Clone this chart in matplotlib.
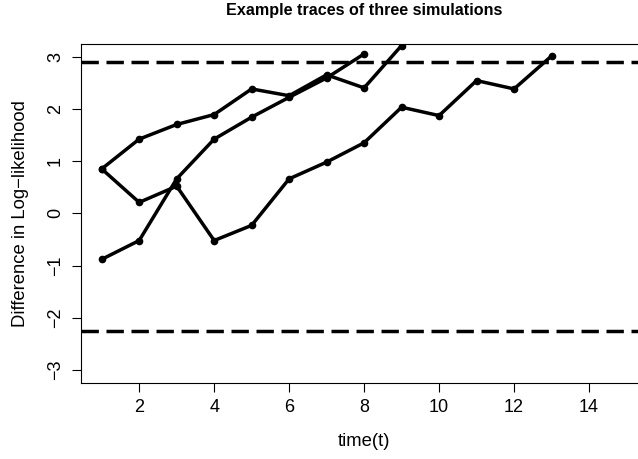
import numpy as np
import matplotlib
matplotlib.use("Agg")
import matplotlib.pyplot as plt

plt.rcParams["font.family"] = ["Liberation Sans", "DejaVu Sans"]

# three simulated traces of the log-likelihood difference
t_a = [1, 2, 3, 4, 5, 6, 7, 8, 9]
llr_a = [0.85, 1.42, 1.70, 1.89, 2.38, 2.25, 2.65, 2.40, 3.21]

t_b = [1, 2, 3, 4, 5, 6, 7, 8, 9, 10, 11, 12, 13]
llr_b = [0.85, 0.21, 0.52, -0.52, -0.23, 0.66, 0.98, 1.35, 2.03, 1.87, 2.54, 2.38, 3.01]

t_c = [1, 2, 3, 4, 5, 6, 7, 8]
llr_c = [-0.88, -0.52, 0.66, 1.42, 1.84, 2.22, 2.59, 3.05]

# SPRT boundaries
upper = 2.890
lower = -2.251

fig = plt.figure(figsize=(6.38, 4.59), dpi=100)
ax = fig.add_axes([0.1265, 0.1662, 0.8884, 0.738])

for t, v in [(t_a, llr_a), (t_b, llr_b), (t_c, llr_c)]:
    ax.plot(t, v, color="black", linewidth=2.5, marker="o", markersize=4.5,
            solid_joinstyle="round", solid_capstyle="round")

for h in (upper, lower):
    ax.axhline(h, color="black", linewidth=2.5, linestyle=(0, (5, 2.2)))

ax.set_xlim(0.44, 15.56)
ax.set_ylim(-3.24, 3.24)
ax.set_xticks([2, 4, 6, 8, 10, 12, 14])
ax.set_yticks([-3, -2, -1, 0, 1, 2, 3])
ax.set_yticklabels(["\u22123", "\u22122", "\u22121", "0", "1", "2", "3"],
                   rotation=90, va="center")
ax.tick_params(direction="out", length=6.5, width=0.8, labelsize=13, pad=5.5)

for s in ax.spines.values():
    s.set_linewidth(0.8)

ax.set_xlabel("time(t)", fontsize=13.3, va="center")
ax.xaxis.set_label_coords(0.5, -0.175)
ax.set_ylabel("Difference in Log\u2212likelihood", fontsize=13.3, va="center")
ax.yaxis.set_label_coords(-0.107, 0.5)
fig.text(0.5705, 1 - 15 / 459, "Example traces of three simulations",
         fontsize=11.6, fontweight="bold", ha="center", va="baseline")

fig.savefig("out.png", dpi=100)
